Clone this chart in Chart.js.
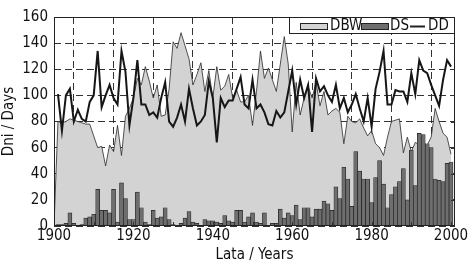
<!DOCTYPE html>
<html>
<head>
<meta charset="utf-8">
<script src="https://cdn.jsdelivr.net/npm/chart.js@4/dist/chart.umd.min.js"></script>
<style>
  html, body { margin: 0; padding: 0; background: #fff; }
  #wrap { width: 472px; height: 264px; }
</style>
</head>
<body>
<div id="wrap"><canvas id="myChart" width="472" height="264"></canvas></div>
<script>
// years on the x axis
const years = [
  1900, 1901, 1902, 1903, 1904, 1905, 1906, 1907, 1908, 1909,
  1910, 1911, 1912, 1913, 1914, 1915, 1916, 1917, 1918, 1919,
  1920, 1921, 1922, 1923, 1924, 1925, 1926, 1927, 1928, 1929,
  1930, 1931, 1932, 1933, 1934, 1935, 1936, 1937, 1938, 1939,
  1940, 1941, 1942, 1943, 1944, 1945, 1946, 1947, 1948, 1949,
  1950, 1951, 1952, 1953, 1954, 1955, 1956, 1957, 1958, 1959,
  1960, 1961, 1962, 1963, 1964, 1965, 1966, 1967, 1968, 1969,
  1970, 1971, 1972, 1973, 1974, 1975, 1976, 1977, 1978, 1979,
  1980, 1981, 1982, 1983, 1984, 1985, 1986, 1987, 1988, 1989,
  1990, 1991, 1992, 1993, 1994, 1995, 1996, 1997, 1998, 1999,
  2000
];

// DBW - grey area
const dbw = [
  0, 80, 79, 80, 82, 81, 80, 79, 78, 78,
  69, 60, 61, 46, 62, 57, 77, 54, 84, 90,
  98, 113, 108, 122, 111, 98, 108, 84, 85, 105,
  141, 136, 148, 138, 128, 108, 116, 125, 103, 119,
  98, 122, 104, 107, 116, 98, 104, 95, 95, 100,
  77, 103, 134, 113, 121, 112, 103, 124, 145, 124,
  72, 110, 85, 98, 107, 98, 110, 92, 103, 85,
  88, 90, 87, 63, 84, 80, 79, 82, 75, 69,
  73, 63, 60, 54, 68, 80, 81, 82, 56, 68,
  57, 64, 62, 64, 62, 68, 90, 80, 71, 68,
  55
];

// DS - dark bars
const ds = [
  null, 1, 1, 2, 10, 2, 0, 1, 6, 7,
  9, 28, 12, 12, 10, 28, 3, 33, 21, 5,
  5, 26, 14, 3, 1, 12, 6, 7, 14, 5,
  1, 0, 2, 6, 11, 3, 2, 0, 5, 4,
  4, 3, 2, 8, 4, 3, 12, 12, 3, 7,
  10, 3, 2, 10, 0, 2, 2, 13, 6, 10,
  8, 16, 5, 14, 14, 7, 13, 13, 19, 17,
  12, 30, 21, 45, 36, 15, 57, 42, 36, 36,
  18, 37, 50, 32, 14, 24, 30, 34, 44, 20,
  58, 31, 71, 70, 63, 60, 36, 35, 34, 48,
  49
];

// DD - black line
const dd = [
  null, 101, 73, 100, 105, 80, 89, 82, 80, 95,
  100, 134, 91, 100, 108, 98, 93, 134, 118, 77,
  98, 127, 93, 93, 85, 87, 83, 98, 110, 80,
  76, 83, 93, 80, 105, 90, 77, 80, 85, 111,
  98, 64, 98, 91, 96, 96, 105, 114, 93, 90,
  112, 90, 93, 87, 78, 77, 88, 83, 87, 103,
  119, 93, 112, 98, 108, 72, 113, 103, 107, 100,
  95, 108, 90, 98, 87, 93, 101, 90, 80, 98,
  76, 105, 118, 134, 93, 93, 104, 103, 103, 95,
  117, 101, 127, 119, 117, 108, 100, 92, 112, 127,
  122
];

const xTickLabels = [1900, 1920, 1940, 1960, 1980, 2000];
const yTicks = [0, 20, 40, 60, 80, 100, 120, 140, 160];

const FONT = "'Liberation Sans Narrow', 'Arial Narrow', 'DejaVu Sans Condensed', sans-serif";

const pts = (arr) => years.map((yr, i) => ({ x: yr, y: arr[i] }));

// frame, inner ticks and the legend box
const decorPlugin = {
  id: "decor",
  afterDatasetsDraw(chart) {
    const { ctx, chartArea: a, scales } = chart;
    ctx.save();
    ctx.strokeStyle = "#333";
    ctx.lineWidth = 1;
    ctx.beginPath();
    yTicks.forEach((v) => {
      const py = Math.round(scales.y.getPixelForValue(v)) + 0.5;
      ctx.moveTo(a.right, py);
      ctx.lineTo(a.right - 4, py);
    });
    for (let yr = 1910; yr <= 2000; yr += 10) {
      const px = Math.round(scales.x.getPixelForValue(yr)) + 0.5;
      ctx.moveTo(px, a.bottom);
      ctx.lineTo(px, a.bottom - 4);
    }
    ctx.stroke();
    ctx.restore();
  },
  afterDraw(chart) {
    const { ctx, chartArea: a } = chart;
    ctx.save();
    ctx.strokeStyle = "#222";
    ctx.lineWidth = 1;
    ctx.strokeRect(a.left + 0.5, a.top + 0.5, a.right - a.left - 1, a.bottom - a.top - 1);

    // legend
    const lx = a.right - 166, ly = a.top, lw = 166, lh = 16;
    ctx.fillStyle = "#fff";
    ctx.fillRect(lx + 0.5, ly + 0.5, lw - 1, lh);
    ctx.strokeRect(lx + 0.5, ly + 0.5, lw - 1, lh);
    const cy = ly + 9;
    ctx.font = "15px " + FONT;
    ctx.textBaseline = "middle";
    ctx.textAlign = "left";

    ctx.fillStyle = "#d3d3d3";
    ctx.fillRect(lx + 11, cy - 3, 27, 6);
    ctx.strokeRect(lx + 11.5, cy - 2.5, 27, 6);
    ctx.fillStyle = "#111";
    ctx.fillText("DBW", lx + 41, cy);

    ctx.fillStyle = "#6e6e6e";
    ctx.fillRect(lx + 72, cy - 3, 27, 6);
    ctx.strokeRect(lx + 72.5, cy - 2.5, 27, 6);
    ctx.fillStyle = "#111";
    ctx.fillText("DS", lx + 101, cy);

    ctx.lineWidth = 2;
    ctx.beginPath();
    ctx.moveTo(lx + 121, cy + 0.5);
    ctx.lineTo(lx + 136, cy + 0.5);
    ctx.stroke();
    ctx.fillText("DD", lx + 139, cy);
    ctx.restore();
  }
};

const ctx = document.getElementById("myChart").getContext("2d");

const myChart = new Chart(ctx, {
  data: {
    datasets: [
      {
        type: "line",
        label: "DD",
        data: pts(dd),
        borderColor: "#161616",
        borderWidth: 2,
        pointRadius: 0,
        tension: 0,
        fill: false,
        order: 1
      },
      {
        type: "bar",
        label: "DS",
        data: pts(ds),
        backgroundColor: "#6e6e6e",
        borderColor: "#222",
        borderWidth: 0.7,
        barPercentage: 1,
        categoryPercentage: 1,
        order: 2
      },
      {
        type: "line",
        label: "DBW",
        data: pts(dbw),
        borderColor: "#2a2a2a",
        borderWidth: 0.8,
        backgroundColor: "#d3d3d3",
        pointRadius: 0,
        tension: 0,
        fill: "origin",
        order: 3
      }
    ]
  },
  options: {
    responsive: false,
    animation: false,
    layout: { padding: { top: 17, right: 17, left: 0, bottom: 0 } },
    plugins: {
      legend: { display: false },
      tooltip: { enabled: false }
    },
    scales: {
      x: {
        type: "linear",
        min: 1900,
        max: 2001,
        offset: false,
        ticks: {
          stepSize: 10,
          includeBounds: false,
          autoSkip: false,
          maxRotation: 0,
          padding: 1,
          color: "#111",
          font: { family: FONT, size: 15 },
          callback: (v) => (xTickLabels.includes(v) ? String(v) : "")
        },
        grid: { color: "#333", lineWidth: 1, drawTicks: false },
        border: { display: false, dash: [7, 4] },
        title: {
          display: true,
          text: "Lata / Years",
          color: "#111",
          font: { family: FONT, size: 15 },
          padding: { top: 0, bottom: 0 }
        },
        afterFit: (s) => { s.height = 38; }
      },
      y: {
        min: 0,
        max: 160,
        ticks: {
          stepSize: 20,
          padding: 6,
          color: "#111",
          font: { family: FONT, size: 15 }
        },
        grid: { color: "#333", lineWidth: 1, drawTicks: false },
        border: { display: false, dash: [7, 4] },
        title: {
          display: true,
          text: "Dni / Days",
          color: "#111",
          font: { family: FONT, size: 15 },
          padding: { top: 0, bottom: 2 }
        },
        afterFit: (s) => { s.width = 54; }
      }
    }
  },
  plugins: [decorPlugin]
});
</script>
</body>
</html>
